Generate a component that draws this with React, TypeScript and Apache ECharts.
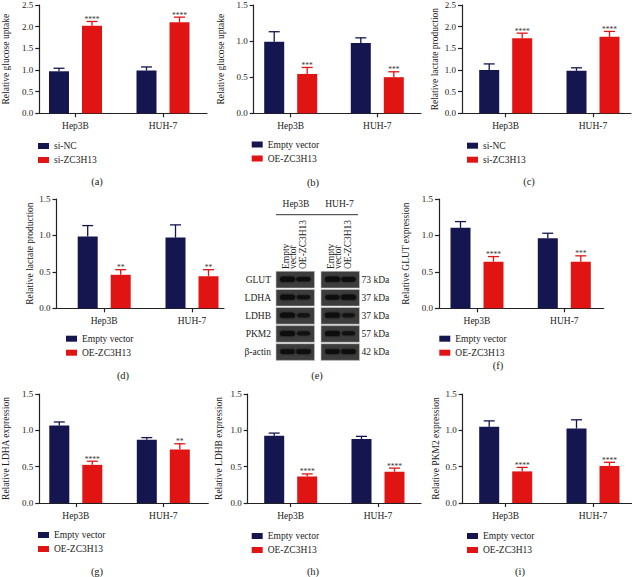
import React, { useEffect, useRef } from 'react';
import * as echarts from 'echarts';

// ---------- data ----------
const categories = ['Hep3B', 'HUH-7'];
const knockdownLegend = ['si-NC', 'si-ZC3H13'];
const overexpLegend = ['Empty vector', 'OE-ZC3H13'];

// (a) glucose uptake, knockdown
const glucoseSiNC = [0.97, 0.99];
const glucoseSiNCErr = [0.07, 0.08];
const glucoseSiZC = [2.02, 2.1];
const glucoseSiZCErr = [0.1, 0.12];
const glucoseSiStars = ['****', '****'];
// (b) glucose uptake, overexpression
const glucoseVector = [0.99, 0.975];
const glucoseVectorErr = [0.14, 0.07];
const glucoseOE = [0.545, 0.5];
const glucoseOEErr = [0.09, 0.075];
const glucoseOEStars = ['***', '***'];
// (c) lactate production, knockdown
const lactateSiNC = [1.0, 0.98];
const lactateSiNCErr = [0.14, 0.07];
const lactateSiZC = [1.73, 1.765];
const lactateSiZCErr = [0.12, 0.125];
const lactateSiStars = ['****', '****'];
// (d) lactate production, overexpression
const lactateVector = [0.985, 0.97];
const lactateVectorErr = [0.15, 0.175];
const lactateOE = [0.46, 0.44];
const lactateOEErr = [0.07, 0.09];
const lactateOEStars = ['**', '**'];
// (f) GLUT
const glutVector = [1.105, 0.96];
const glutVectorErr = [0.085, 0.07];
const glutOE = [0.64, 0.64];
const glutOEErr = [0.07, 0.08];
const glutOEStars = ['****', '***'];
// (g) LDHA
const ldhaVector = [1.065, 0.87];
const ldhaVectorErr = [0.05, 0.03];
const ldhaOE = [0.525, 0.735];
const ldhaOEErr = [0.05, 0.08];
const ldhaOEStars = ['****', '**'];
// (h) LDHB
const ldhbVector = [0.925, 0.88];
const ldhbVectorErr = [0.037, 0.037];
const ldhbOE = [0.365, 0.43];
const ldhbOEErr = [0.035, 0.05];
const ldhbOEStars = ['****', '****'];
// (i) PKM2
const pkm2Vector = [1.05, 1.025];
const pkm2VectorErr = [0.08, 0.12];
const pkm2OE = [0.435, 0.51];
const pkm2OEErr = [0.055, 0.05];
const pkm2OEStars = ['****', '****'];

// (e) western blot
const blotCellLines = ['Hep3B', 'HUH-7'];
const blotLaneLabels = [['Empty', 'vector'], ['OE-ZC3H13']];
const blotProteins = ['GLUT', 'LDHA', 'LDHB', 'PKM2', 'β-actin'];
const blotKda = ['73 kDa', '37 kDa', '37 kDa', '57 kDa', '42 kDa'];
const blotBandIntensity = [
  [1, 0.8, 1, 0.85],
  [1, 0.7, 0.85, 1],
  [1, 0.55, 1, 0.55],
  [1, 0.6, 1, 0.6],
  [0.9, 0.9, 0.9, 0.9],
];

// ---------- style ----------
const NAVY = '#15154f';
const RED = '#e11414';
const INK = '#222';
const FONT = '"Liberation Serif", "DejaVu Serif", "Times New Roman", serif';
const BAR_W = 20;
const BAR_GAP = 0.65;
const BAR_OFFSET = (BAR_W + BAR_W * BAR_GAP) / 2;
const CAP = 5.5;
const STAR_DY = 2;

type Panel = {
  label: string;
  ctrl: number[]; ctrlErr: number[];
  treat: number[]; treatErr: number[];
  stars: string[];
  legend: string[];
  yName: string; yMax: number;
  axisX: number; top: number; bottom: number; xEnd: number;
  c1: number; c2: number; nameX: number;
  legendX: number; legendY: number;
  labelX: number; labelY: number;
};

const ROW1_TOP = 5;

const PANELS: Panel[] = [
  { label: '(a)', ctrl: glucoseSiNC, ctrlErr: glucoseSiNCErr, treat: glucoseSiZC, treatErr: glucoseSiZCErr, stars: glucoseSiStars,
    legend: knockdownLegend, yName: 'Relative glucose uptake', yMax: 2.5,
    axisX: 39.3, top: ROW1_TOP, bottom: 113.3, xEnd: 207, c1: 75.5, c2: 163, nameX: 6,
    legendX: 38, legendY: 146, labelX: 97, labelY: 181 },
  { label: '(b)', ctrl: glucoseVector, ctrlErr: glucoseVectorErr, treat: glucoseOE, treatErr: glucoseOEErr, stars: glucoseOEStars,
    legend: overexpLegend, yName: 'Relative glucose uptake', yMax: 1.5,
    axisX: 253.7, top: ROW1_TOP, bottom: 113.3, xEnd: 421, c1: 290.7, c2: 377.3, nameX: 221,
    legendX: 251.7, legendY: 144.5, labelX: 313, labelY: 182 },
  { label: '(c)', ctrl: lactateSiNC, ctrlErr: lactateSiNCErr, treat: lactateSiZC, treatErr: lactateSiZCErr, stars: lactateSiStars,
    legend: knockdownLegend, yName: 'Relative lactate production', yMax: 2.5,
    axisX: 462, top: ROW1_TOP, bottom: 113.3, xEnd: 631, c1: 505.7, c2: 593, nameX: 434.7,
    legendX: 467, legendY: 145.7, labelX: 529, labelY: 181 },
  { label: '(d)', ctrl: lactateVector, ctrlErr: lactateVectorErr, treat: lactateOE, treatErr: lactateOEErr, stars: lactateOEStars,
    legend: overexpLegend, yName: 'Relative lactate production', yMax: 1.5,
    axisX: 56.5, top: 199, bottom: 308.3, xEnd: 224, c1: 104.2, c2: 192, nameX: 33,
    legendX: 66, legendY: 338.7, labelX: 123, labelY: 375 },
  { label: '(f)', ctrl: glutVector, ctrlErr: glutVectorErr, treat: glutOE, treatErr: glutOEErr, stars: glutOEStars,
    legend: overexpLegend, yName: 'Relative GLUT expression', yMax: 1.5,
    axisX: 439, top: 199, bottom: 308.3, xEnd: 603.7, c1: 477, c2: 564.3, nameX: 406,
    legendX: 439.3, legendY: 338.7, labelX: 498, labelY: 365 },
  { label: '(g)', ctrl: ldhaVector, ctrlErr: ldhaVectorErr, treat: ldhaOE, treatErr: ldhaOEErr, stars: ldhaOEStars,
    legend: overexpLegend, yName: 'Relative LDHA expression', yMax: 1.5,
    axisX: 39.3, top: 394, bottom: 503, xEnd: 208.3, c1: 75.8, c2: 163.3, nameX: 6,
    legendX: 38, legendY: 535, labelX: 97, labelY: 571 },
  { label: '(h)', ctrl: ldhbVector, ctrlErr: ldhbVectorErr, treat: ldhbOE, treatErr: ldhbOEErr, stars: ldhbOEStars,
    legend: overexpLegend, yName: 'Relative LDHB expression', yMax: 1.5,
    axisX: 247.7, top: 394, bottom: 503, xEnd: 421, c1: 290.7, c2: 378, nameX: 218.3,
    legendX: 251.7, legendY: 536, labelX: 313, labelY: 571 },
  { label: '(i)', ctrl: pkm2Vector, ctrlErr: pkm2VectorErr, treat: pkm2OE, treatErr: pkm2OEErr, stars: pkm2OEStars,
    legend: overexpLegend, yName: 'Relative PKM2 expression', yMax: 1.5,
    axisX: 462.7, top: 394, bottom: 503, xEnd: 632, c1: 505.7, c2: 593, nameX: 435.3,
    legendX: 467, legendY: 536, labelX: 520, labelY: 571 },
];

function makeErrRender(stars: string[]) {
  return (_params: any, api: any) => {
    const cat = api.value(0);
    const v = api.value(1);
    const e = api.value(2);
    const g = api.value(3);
    const p0 = api.coord([cat, v]);
    const p1 = api.coord([cat, v + e]);
    const x = p0[0] + (g === 0 ? -BAR_OFFSET : BAR_OFFSET);
    const color = g === 0 ? NAVY : RED;
    const children: any[] = [
      { type: 'line', shape: { x1: x, y1: p0[1], x2: x, y2: p1[1] }, style: { stroke: color, lineWidth: 1.3 } },
      { type: 'line', shape: { x1: x - CAP, y1: p1[1], x2: x + CAP, y2: p1[1] }, style: { stroke: color, lineWidth: 1.3 } },
    ];
    if (g === 1) {
      children.push({
        type: 'text',
        style: { text: stars[cat], x, y: p1[1] + STAR_DY, align: 'center', verticalAlign: 'bottom', fontSize: 7.5, fontFamily: FONT, fill: '#333' },
      });
    }
    return { type: 'group', children };
  };
}

function buildBlot(): any[] {
  const els: any[] = [];
  const boxes = [276, 321];
  const boxW = 38.5;
  const rowTop = 271.3;
  const rowH = 16.7;
  const rowPitch = 18.1;
  const laneOffsets = [11.5, 27.5];
  const headerCenters = [296, 339.5];
  const labelOffsets = [[9.5, 17.3], [26.5]];
  els.push({ type: 'line', shape: { x1: 276, y1: 214.7, x2: 358, y2: 214.7 }, style: { stroke: '#333', lineWidth: 1 } });
  blotCellLines.forEach((cl, ci) => {
    els.push({ type: 'text', style: { text: cl, x: headerCenters[ci], y: 204, align: 'center', verticalAlign: 'middle', fontSize: 9.5, fontFamily: FONT, fill: INK } });
    blotLaneLabels.forEach((lines, li) => {
      lines.forEach((t, k) => {
        els.push({
          type: 'text', x: boxes[ci] + labelOffsets[li][k], y: 269, rotation: Math.PI / 2,
          style: { text: t, x: 0, y: 0, align: 'left', verticalAlign: 'middle', fontSize: 9.5, fontFamily: FONT, fill: INK },
        });
      });
    });
  });
  blotProteins.forEach((p, ri) => {
    const y0 = rowTop + ri * rowPitch;
    const cy = y0 + rowH / 2;
    els.push({ type: 'text', style: { text: p, x: 271, y: cy, align: 'right', verticalAlign: 'middle', fontSize: 9.5, fontFamily: FONT, fill: INK } });
    els.push({ type: 'text', style: { text: blotKda[ri], x: 361.5, y: cy, align: 'left', verticalAlign: 'middle', fontSize: 9.5, fontFamily: FONT, fill: INK } });
    boxes.forEach((bx, ci) => {
      els.push({ type: 'rect', shape: { x: bx, y: y0, width: boxW, height: rowH }, style: { fill: '#3d3d3d', stroke: '#c8c8c8', lineWidth: 0.6 } });
      laneOffsets.forEach((lo, li) => {
        const it = blotBandIntensity[ri][ci * 2 + li];
        const w = 10 + 5 * it;
        const h = 2 + 3 * it;
        els.push({
          type: 'rect',
          shape: { x: bx + lo - w / 2, y: cy - h / 2 - 0.5, width: w, height: h, r: h / 2 },
          style: { fill: '#0c0c0c', opacity: 0.55 + 0.45 * it, shadowBlur: 2.5, shadowColor: 'rgba(0,0,0,0.9)' },
        });
      });
    });
  });
  els.push({ type: 'text', style: { text: '(e)', x: 317, y: 375, align: 'center', verticalAlign: 'middle', fontSize: 10.5, fontFamily: FONT, fill: INK } });
  return els;
}

function buildOption(): any {
  const grid: any[] = [];
  const xAxis: any[] = [];
  const yAxis: any[] = [];
  const series: any[] = [];
  const legend: any[] = [];
  const graphic: any[] = [];
  const axisLineStyle = { color: INK, width: 1.2 };

  PANELS.forEach((p, i) => {
    const fg = 2 * i;
    const bg = 2 * i + 1;
    const s = p.c2 - p.c1;
    const h = p.bottom - p.top;
    grid.push({ left: p.axisX, top: p.top, width: p.xEnd - p.axisX, height: h, containLabel: false, outerBoundsMode: 'none' });
    grid.push({ left: p.c1 - s / 2, top: p.top, width: 2 * s, height: h, containLabel: false, outerBoundsMode: 'none' });

    xAxis.push({
      gridIndex: fg, type: 'value', min: 0, max: 1,
      axisLine: { show: true, lineStyle: axisLineStyle }, axisTick: { show: false }, axisLabel: { show: false }, splitLine: { show: false },
    });
    xAxis.push({
      gridIndex: bg, type: 'category', data: categories,
      axisLine: { show: false },
      axisTick: { show: true, alignWithLabel: true, length: 4, lineStyle: axisLineStyle },
      axisLabel: { margin: 8, fontSize: 9.5, fontFamily: FONT, color: INK },
      splitLine: { show: false },
    });
    const fontSize = 9.5;
    yAxis.push({
      gridIndex: fg, type: 'value', min: 0, max: p.yMax, interval: 0.5,
      axisLine: { show: true, lineStyle: axisLineStyle },
      axisTick: { show: true, length: 4, lineStyle: axisLineStyle },
      axisLabel: { margin: 6, fontSize: 9, fontFamily: FONT, color: INK, formatter: (v: number) => v.toFixed(1) },
      splitLine: { show: false },
      name: p.yName, nameLocation: 'middle', nameGap: p.axisX - p.nameX - fontSize / 2 - 0.5,
      nameTextStyle: { fontSize, fontFamily: FONT, color: INK },
    });
    yAxis.push({ gridIndex: bg, type: 'value', min: 0, max: p.yMax, show: false });

    series.push({
      type: 'bar', name: p.legend[0], xAxisIndex: bg, yAxisIndex: bg, data: p.ctrl,
      barWidth: BAR_W, barGap: `${BAR_GAP * 100}%`, itemStyle: { color: NAVY }, silent: true,
    });
    series.push({
      type: 'bar', name: p.legend[1], xAxisIndex: bg, yAxisIndex: bg, data: p.treat,
      barWidth: BAR_W, barGap: `${BAR_GAP * 100}%`, itemStyle: { color: RED }, silent: true,
    });
    const errData: number[][] = [];
    p.ctrl.forEach((v, k) => errData.push([k, v, p.ctrlErr[k], 0]));
    p.treat.forEach((v, k) => errData.push([k, v, p.treatErr[k], 1]));
    series.push({
      type: 'custom', xAxisIndex: bg, yAxisIndex: bg, data: errData, renderItem: makeErrRender(p.stars),
      z: 3, silent: true, clip: false,
    });

    legend.push({
      orient: 'vertical', left: p.legendX, top: p.legendY - 6, padding: 0,
      icon: 'rect', itemWidth: 11, itemHeight: 6, itemGap: 2, selectedMode: false,
      textStyle: { fontSize: 9.5, fontFamily: FONT, color: INK, lineHeight: 12 },
      data: p.legend,
    });
    graphic.push({
      type: 'text',
      style: { text: p.label, x: p.labelX, y: p.labelY, align: 'center', verticalAlign: 'middle', fontSize: 10.5, fontFamily: FONT, fill: INK },
    });
  });

  graphic.push(...buildBlot());

  return {
    animation: false,
    backgroundColor: '#ffffff',
    textStyle: { fontFamily: FONT },
    grid, xAxis, yAxis, series, legend,
    tooltip: { show: false },
    graphic: { elements: graphic },
  };
}

export default function App() {
  const ref = useRef<HTMLDivElement>(null);
  useEffect(() => {
    if (!ref.current) return;
    const chart = echarts.init(ref.current, undefined, { renderer: 'svg' });
    chart.setOption(buildOption());
    return () => chart.dispose();
  }, []);
  return <div ref={ref} style={{ position: 'absolute', left: 0, top: 0, width: 632, height: 577, background: '#fff' }} />;
}
